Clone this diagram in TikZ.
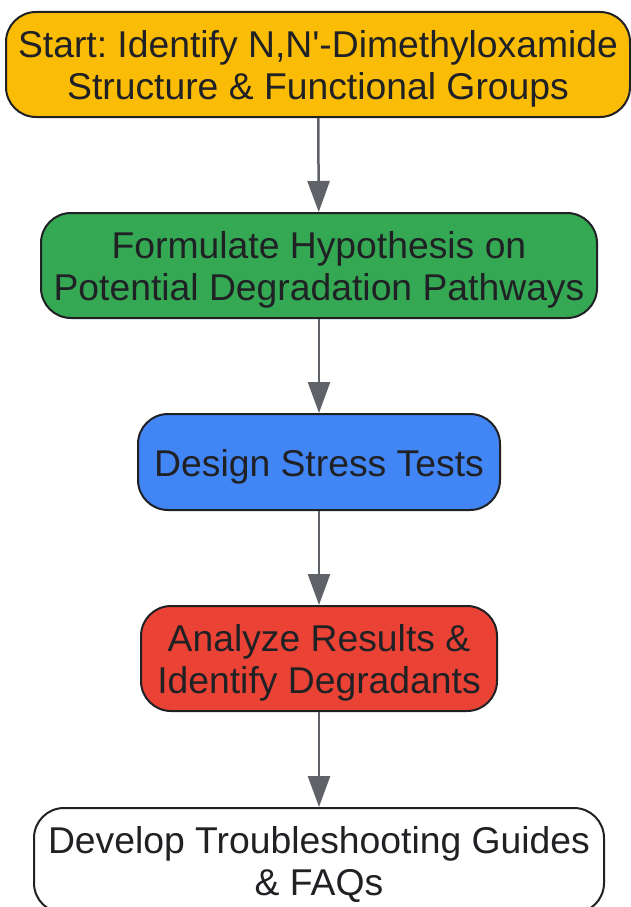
\documentclass[tikz,border=0pt]{standalone}
\usepackage{fontspec}
\setmainfont{Liberation Sans}
\usetikzlibrary{arrows.meta}
\definecolor{cyellow}{HTML}{FBBC05}
\definecolor{cgreen}{HTML}{34A853}
\definecolor{cblue}{HTML}{4285F4}
\definecolor{cred}{HTML}{EA4335}
\definecolor{ctext}{HTML}{202124}
\definecolor{carrow}{HTML}{5F6368}
\newcommand\lbl[1]{\raisebox{-6pt}[\height][\depth]{\begin{tabular}{@{}c@{}}#1\end{tabular}}}
\frenchspacing
\tikzset{
  box/.style={draw=ctext, line width=2pt, rounded corners=30pt, align=center,
    text=ctext, font=\fontsize{37.3}{42}\selectfont, inner sep=0pt},
  arr/.style={draw=carrow, line width=2.5pt, -{Triangle[width=22pt,length=31pt]}},
}
\begin{document}
\begin{tikzpicture}[x=1pt,y=-1pt]
\useasboundingbox (0,0) rectangle (631,907);
\node[box, fill=cyellow, minimum width=624pt, minimum height=105pt] (b1) at (318,64.5)
  {\lbl{Start: Identify N,N\textquotesingle-Dimethyloxamide\\Structure \& Functional Groups}};
\node[box, fill=cgreen, minimum width=556pt, minimum height=105pt] (b2) at (319,265.5)
  {\lbl{Formulate Hypothesis on\\Potential Degradation Pathways}};
\node[box, fill=cblue, minimum width=362pt, minimum height=96pt] (b3) at (319,462)
  {\lbl{Design Stress Tests}};
\node[box, fill=cred, minimum width=356pt, minimum height=105pt] (b4) at (319,658.5)
  {\lbl{Analyze Results \&\\Identify Degradants}};
\node[box, fill=white, minimum width=570pt, minimum height=105pt] (b5) at (319,860.5)
  {\lbl{Develop Troubleshooting Guides\\\& FAQs}};
\draw[arr] (b1) -- (b2);
\draw[arr] (b2) -- (b3);
\draw[arr] (b3) -- (b4);
\draw[arr] (b4) -- (b5);
\end{tikzpicture}
\end{document}
